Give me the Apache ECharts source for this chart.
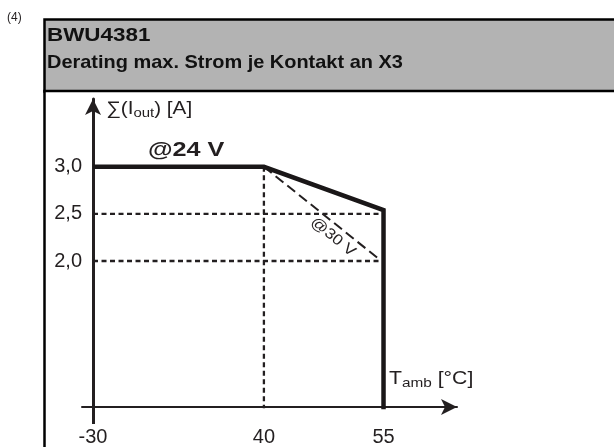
<!DOCTYPE html>
<html>
<head>
<meta charset="utf-8">
<script src="https://cdn.jsdelivr.net/npm/echarts@6/dist/echarts.min.js"></script>
<style>
html,body{margin:0;padding:0;background:#fff;}
#chart{width:614px;height:447px;}
</style>
</head>
<body>
<div id="chart"></div>
<script>
// ---- data ----
var tickTemps = [-30, 40, 55];          // x tick values (°C)
var tickLabels = ['-30', '40', '55'];
var yTickValues = [2.0, 2.5, 3.0];      // y tick values (A)
var yTickLabels = ['2,0', '2,5', '3,0'];

var curve24T = [-30, 40, 55, 55];       // @24 V derating curve
var curve24I = [3.0, 3.0, 2.54, 0];
var curve30T = [40, 54.3];              // @30 V derating curve
var curve30I = [3.0, 2.03];
var ref25T = [-30, 55];  var ref25I = [2.5, 2.5];
var ref20T = [-30, 55];  var ref20I = [2.0, 2.0];
var ref40T = [40, 40];   var ref40I = [3.0, 0];

// piecewise axis (axis is not to scale in the original drawing)
var tickPos = [0, 10, 17];
function xPos(t) {
  for (var i = 0; i < tickTemps.length - 1; i++) {
    if (t <= tickTemps[i + 1] || i === tickTemps.length - 2) {
      var f = (t - tickTemps[i]) / (tickTemps[i + 1] - tickTemps[i]);
      return tickPos[i] + f * (tickPos[i + 1] - tickPos[i]);
    }
  }
}
function pts(ts, vs) { return ts.map(function (t, i) { return [xPos(t), vs[i]]; }); }

var ink = '#231f20';
var chart = echarts.init(document.getElementById('chart'), null, {renderer: 'canvas'});
var font = 'Liberation Sans, Arial, sans-serif';

chart.setOption({
  animation: false,
  backgroundColor: '#fff',
  grid: {left: 82, top: 99, width: 375, height: 309, containLabel: false},
  xAxis: {
    type: 'value', min: -0.645, max: 21.3,
    splitLine: {show: false},
    axisLine: {onZero: false, lineStyle: {color: ink, width: 2}, symbol: ['none', 'arrow'], symbolSize: [12, 16]},
    axisTick: {show: true, customValues: [xPos(-30)], length: 17, inside: false, lineStyle: {color: ink, width: 3}},
    axisLabel: {
      customValues: tickTemps.map(xPos), margin: 20, color: ink, fontSize: 20, fontFamily: font,
      formatter: function (v) { var i = tickPos.findIndex(function (p) { return Math.abs(p - v) < 1e-6; }); return i >= 0 ? tickLabels[i] : ''; }
    }
  },
  yAxis: {
    type: 'value', min: 0.45, max: 3.72,
    splitLine: {show: false},
    axisLine: {onZero: true, lineStyle: {color: ink, width: 3}, symbol: ['none', 'arrow'], symbolSize: [12, 16]},
    axisTick: {show: false},
    axisLabel: {
      customValues: yTickValues, margin: 0, color: ink, fontSize: 20, fontFamily: font,
      formatter: function (v) { var i = yTickValues.findIndex(function (p) { return Math.abs(p - v) < 1e-6; }); return i >= 0 ? yTickLabels[i] : ''; }
    }
  },
  series: [
    {type: 'line', data: pts(ref25T, ref25I), symbol: 'none', clip: true, z: 2, lineStyle: {color: ink, width: 2.3, type: [5, 3.5]}},
    {type: 'line', data: pts(ref20T, ref20I), symbol: 'none', clip: true, z: 2, lineStyle: {color: ink, width: 2.3, type: [5, 3.5]}},
    {type: 'line', data: pts(ref40T, ref40I), symbol: 'none', clip: true, z: 2, lineStyle: {color: ink, width: 2.3, type: [5, 3.5]}},
    {type: 'line', data: pts(curve30T, curve30I), symbol: 'none', clip: true, z: 3, lineStyle: {color: ink, width: 2, type: [10, 5]}},
    {type: 'line', data: pts(curve24T, curve24I), symbol: 'none', clip: true, z: 4, lineStyle: {color: '#1a1718', width: 4.5, join: 'miter'}}
  ],
  graphic: [
    {type: 'rect', z: -10, shape: {x: 44.5, y: 19.5, width: 600, height: 72}, style: {fill: '#b3b3b3', stroke: '#000', lineWidth: 2.5}},
    {type: 'rect', z: -10, shape: {x: 44.5, y: 91, width: 600, height: 400}, style: {fill: '#fff', stroke: '#000', lineWidth: 2.5}},
    {type: 'text', x: 7, y: 12, style: {text: '(4)', font: '12px ' + font, fill: ink}},
    {type: 'text', x: 47, y: 26, scaleX: 1.18, style: {text: 'BWU4381', font: 'bold 19px ' + font, fill: '#111'}},
    {type: 'text', x: 47, y: 53.5, scaleX: 1.05, style: {text: 'Derating max. Strom je Kontakt an X3', font: 'bold 19px ' + font, fill: '#111'}},
    {type: 'text', x: 148, y: 140, scaleX: 1.2, style: {text: '@24 V', font: 'bold 21px ' + font, fill: ink}},
    {type: 'text', x: 333, y: 237, rotation: -0.68, scaleX: 1.15, style: {text: '@30 V', font: '15px ' + font, fill: ink, align: 'center', verticalAlign: 'middle'}},
    {type: 'text', x: 106, y: 100, scaleX: 1.15, style: {
      text: '{a|∑(I}{s|out}{a|) [A]}', fill: ink,
      rich: {a: {fontSize: 18, fontFamily: font, lineHeight: 20, verticalAlign: 'top', fill: ink}, s: {fontSize: 13, fontFamily: font, lineHeight: 10, verticalAlign: 'bottom', fill: ink}}
    }},
    {type: 'text', x: 389, y: 370, scaleX: 1.18, style: {
      text: '{a|T}{s|amb}{a| [°C]}', fill: ink,
      rich: {a: {fontSize: 18, fontFamily: font, lineHeight: 20, verticalAlign: 'top', fill: ink}, s: {fontSize: 13, fontFamily: font, lineHeight: 10, verticalAlign: 'bottom', fill: ink}}
    }}
  ]
});
</script>
</body>
</html>
